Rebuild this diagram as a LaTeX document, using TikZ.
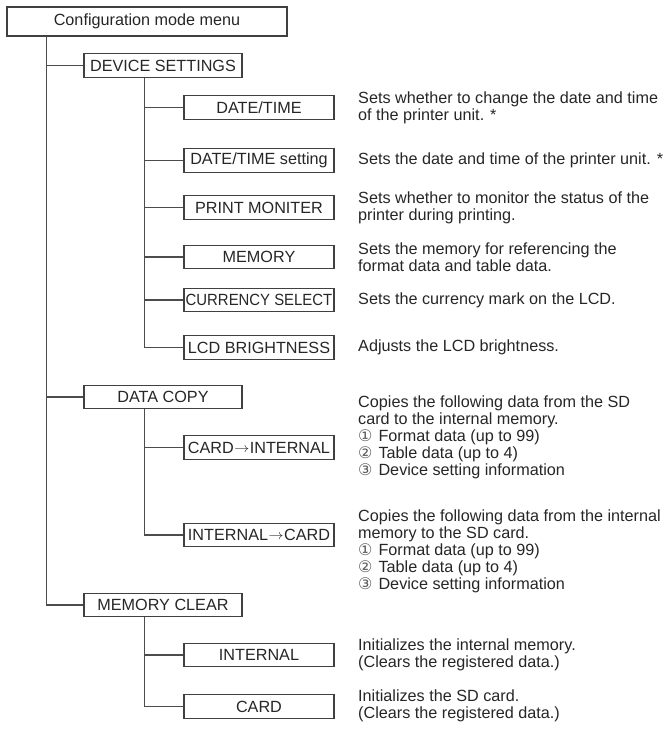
\documentclass[tikz,border=0pt]{standalone}
\usepackage{fontspec}
\setmainfont{Liberation Sans}
\newfontfamily\circfont{DejaVu Sans}
\usepackage{graphicx}
\usepackage{tikz}
\usetikzlibrary{positioning}

\newcommand{\circnum}[1]{{\circfont\fontsize{16}{17}\selectfont\color{black!65}#1}\hspace{6pt}}
\newcommand{\toarrow}{\hspace{0.5pt}\raisebox{1pt}{\resizebox{15pt}{5pt}{$\rightarrow$}}\hspace{0.5pt}}

\begin{document}
\begin{tikzpicture}[
    x=1pt, y=-1pt,
    every node/.style={font=\fontsize{16.2}{17}\selectfont, text=black!85},
    menubox/.style={draw=black!75, line width=1.1pt, rectangle, minimum height=23.5pt, inner sep=0pt},
    topbox/.style={menubox, minimum width=158pt},
    subbox/.style={menubox, minimum width=150pt},
    desc/.style={anchor=west, align=left, inner sep=0pt},
    link/.style={draw=black!70, line width=1.4pt},
]
\useasboundingbox (0,0) rectangle (672,734);

\node[menubox, minimum width=280pt, minimum height=29pt] (root) at (147,21.5) {Configuration mode menu};

% first level
\node[topbox] (ds) at (163,65.5) {DEVICE SETTINGS};
\node[topbox] (dc) at (163,397) {DATA COPY};
\node[topbox] (mc) at (163,605) {MEMORY CLEAR};

% device settings items
\node[subbox] (dt) at (259,107.5) {DATE/TIME};
\node[subbox] (dts) at (259,160.5) {DATE/TIME setting};
\node[subbox] (pm) at (259,207.5) {PRINT MONITER};
\node[subbox] (mem) at (259,257) {MEMORY};
\node[subbox] (cur) at (259,300) {\scalebox{0.92}[1]{CURRENCY SELECT}};
\node[subbox] (lcd) at (259,347.5) {LCD BRIGHTNESS};

% data copy items
\node[subbox] (c2i) at (259,447.5) {CARD\toarrow INTERNAL};
\node[subbox] (i2c) at (259,535) {INTERNAL\toarrow CARD};

% memory clear items
\node[subbox] (int) at (259,655) {INTERNAL};
\node[subbox] (card) at (259,706.5) {CARD};

% connectors
\coordinate (rtrunk) at ([xshift=40pt]root.south west);
\foreach \c in {ds,dc,mc}
    \draw[link] (rtrunk) |- (\c.west);
\foreach \c in {dt,dts,pm,mem,cur,lcd}
    \draw[link] ([xshift=61pt]ds.south west) |- (\c.west);
\foreach \c in {c2i,i2c}
    \draw[link] ([xshift=61pt]dc.south west) |- (\c.west);
\foreach \c in {int,card}
    \draw[link] ([xshift=61pt]mc.south west) |- (\c.west);

% descriptions
\node[desc] (d-dt) at (358,107.5) {Sets whether to change the date and time\\of the printer unit. *};
\node[desc] (d-dts) at (358,160.5) {Sets the date and time of the printer unit. *};
\node[desc] (d-pm) at (358,208) {Sets whether to monitor the status of the\\printer during printing.};
\node[desc] (d-mem) at (358,257.5) {Sets the memory for referencing the\\format data and table data.};
\node[desc] (d-cur) at (358,300) {Sets the currency mark on the LCD.};
\node[desc] (d-lcd) at (358,347.5) {Adjusts the LCD brightness.};
\node[desc] (d-c2i) at (358,437) {Copies the following data from the SD\\card to the internal memory.\\\circnum{①}Format data (up to 99)\\\circnum{②}Table data (up to 4)\\\circnum{③}Device setting information};
\node[desc] (d-i2c) at (358,551) {Copies the following data from the internal\\memory to the SD card.\\\circnum{①}Format data (up to 99)\\\circnum{②}Table data (up to 4)\\\circnum{③}Device setting information};
\node[desc] (d-int) at (358,654.5) {Initializes the internal memory.\\(Clears the registered data.)};
\node[desc] (d-card) at (358,705.5) {Initializes the SD card.\\(Clears the registered data.)};
\end{tikzpicture}
\end{document}
